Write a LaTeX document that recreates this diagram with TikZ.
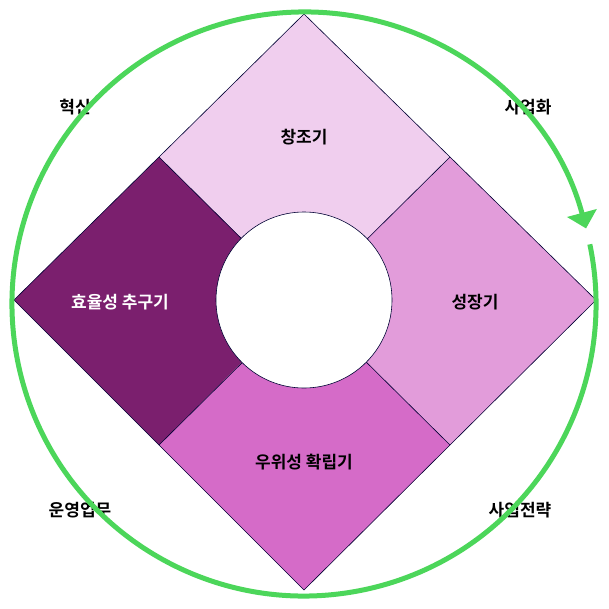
\documentclass[tikz,border=0pt]{standalone}
\usepackage{fontspec}
\newfontfamily\kr{Noto Sans CJK KR}[BoldFont={* Bold}]
\usetikzlibrary{arrows.meta}
\definecolor{cyclegreen}{RGB}{76, 214, 90}
\definecolor{createcolor}{RGB}{240, 206, 238}
\definecolor{growcolor}{RGB}{226, 156, 218}
\definecolor{leadcolor}{RGB}{213, 107, 200}
\definecolor{effcolor}{RGB}{123, 31, 110}

\begin{document}
\begin{tikzpicture}[
    x=1pt, y=-1pt,
    quad/.style={draw=black!80!blue, line width=0.6pt},
    label/.style={font=\kr\bfseries\fontsize{17}{20}\selectfont, text=black},
    cycle/.style={draw=cyclegreen, line width=5pt}
]
    \useasboundingbox (0,0) rectangle (609,608);
    % quadrants
    \coordinate (c) at (304,300);
    \coordinate (t) at (304,14);
    \coordinate (r) at (596,300);
    \coordinate (b) at (304,590);
    \coordinate (l) at (14,300);
    \coordinate (tr) at (450,157);
    \coordinate (br) at (450,445);
    \coordinate (bl) at (159,445);
    \coordinate (tl) at (159,157);
    \fill[createcolor] (t) -- (tr) -- (c) -- (tl) -- cycle;
    \fill[growcolor] (tr) -- (r) -- (br) -- (c) -- cycle;
    \fill[leadcolor] (c) -- (br) -- (b) -- (bl) -- cycle;
    \fill[effcolor] (tl) -- (c) -- (bl) -- (l) -- cycle;
    \draw[quad] (t) -- (r) -- (b) -- (l) -- cycle;
    \draw[quad] (tl) -- (br) (tr) -- (bl);
    \node[circle, draw=black!80!blue, line width=0.6pt, fill=white, minimum size=176pt, inner sep=0pt] (hub) at (c) {};
    % labels
    \node[label] (create) at (304,137) {창조기};
    \node[label] (grow) at (475,302) {성장기};
    \node[label] (lead) at (304,462) {우위성 확립기};
    \node[label, text=white] (eff) at (120,302) {효율성 추구기};
    \node[label] (innov) at (75,107) {혁신};
    \node[label] (biz) at (528,107) {사업화};
    \node[label] (ops) at (80,510) {운영업무};
    \node[label] (strat) at (520,510) {사업전략};
    % cycle
    \draw[cycle, -{Triangle[length=16pt,width=30pt]}] (304,304) ++(-11.8:292) arc[start angle=-11.8, end angle=345, radius=292];
\end{tikzpicture}
\end{document}
